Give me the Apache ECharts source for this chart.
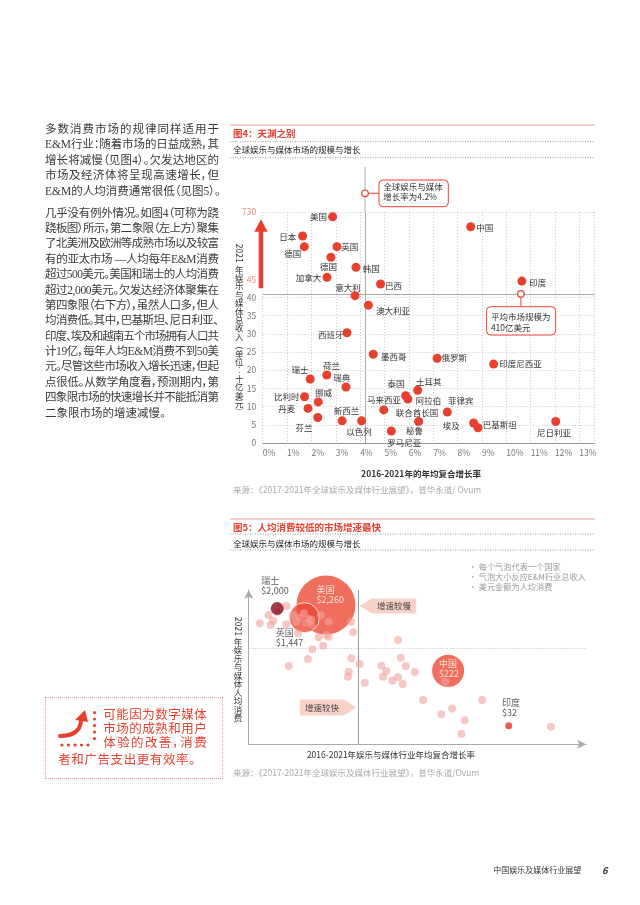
<!DOCTYPE html>
<html>
<head>
<meta charset="utf-8">
<title>天渊之别</title>
<script src="https://cdn.jsdelivr.net/npm/echarts@6/dist/echarts.min.js"></script>
<style>
html,body{margin:0;padding:0;background:#fff;width:640px;height:905px;overflow:hidden;}
#main{position:absolute;left:0;top:0;width:640px;height:905px;}
.ln{position:absolute;white-space:nowrap;font-family:"Liberation Serif","DejaVu Serif","Noto Sans CJK SC",serif;font-feature-settings:"palt";}
#box{position:absolute;left:45px;top:697px;width:178px;height:82px;border:1px dotted #e79a95;box-sizing:border-box;}
#icon{position:absolute;left:0;top:0;pointer-events:none;}
</style>
</head>
<body>
<div id="main"></div>
<div id="box"></div>
<svg id="icon" width="640" height="905">
  <path d="M60,736 C72,736 80,732 81,721" fill="none" stroke="#e8402f" stroke-width="4" stroke-linecap="round"/>
  <polygon points="85,710 75,720 88,722" fill="#e8402f"/>
  <line x1="94.5" y1="712.5" x2="94.5" y2="745" stroke="#e8402f" stroke-width="3.2" stroke-linecap="round" stroke-dasharray="0 6.5"/>
  <line x1="62" y1="745" x2="94.5" y2="745" stroke="#e8402f" stroke-width="3.2" stroke-linecap="round" stroke-dasharray="0 6.5"/>
</svg>
<script>
// ================= DATA =================
// Figure 4: market size (2021, US$ bn) vs 2016-2021 CAGR (%)
const labels4 = ['美国','中国','日本','德国','英国','德国','韩国','加拿大','巴西','印度','意大利',
  '澳大利亚','西班牙','墨西哥','俄罗斯','印度尼西亚','瑞士','荷兰','瑞典','比利时','挪威','丹麦','芬兰',
  '新西兰','以色列','泰国','土耳其','马来西亚','阿拉伯联合酋长国','菲律宾','秘鲁','罗马尼亚','埃及','巴基斯坦','尼日利亚'];
const cagr4 = [2.87,8.54,1.64,1.71,3.05,2.80,3.83,2.64,4.84,10.64,3.79,
  4.34,3.46,4.54,7.16,9.48,1.95,2.63,3.42,1.72,2.28,1.86,2.26,
  3.26,4.06,5.87,6.36,4.97,5.96,7.58,6.40,5.28,8.66,8.84,12.03];
const revenue4 = [682,580,486,377,377,269,167,65,43.7,44.5,40.5,
  37.9,30.3,24.4,23.3,21.7,17.6,18.7,15.4,12.7,11.3,9.5,7.0,
  6.1,6.1,13.0,14.5,9.1,12.1,8.5,5.9,3.3,5.5,4.2,5.9];
const globalCagr = 4.2;      // 全球增长率 4.2%
const avgMarket = 41;        // 平均市场规模 410亿美元
const breakLow = 45, breakHigh = 730;

// Figure 5: per-capita spend (US$) vs CAGR (%)
const cagr5 = [0.00,0.38,0.57,0.47,0.75,1.14,1.14,1.42,1.56,1.64,1.89,2.21,2.21,2.61,2.95,3.91,3.99,2.85,2.95,2.52,
  2.71,2.25,2.06,1.24,3.91,4.27,3.80,3.77,4.49,5.91,6.03,5.20,6.24,5.41,5.27,6.62,5.91,5.67,6.11,7.93,
  6.98,9.50,8.22,7.76,8.76,8.62,12.44,1.72,2.08,1.98];
const spend5 = [1186,1588,1300,1117,1783,2183,1143,1588,1253,834,1687,1330,1117,1588,1253,1253,863,785,739,723,
  538,474,337,263,345,282,215,180,146,658,352,266,263,220,180,213,177,157,139,151,
  79,79,59,48,39,24,31,1429,1393,1197];
const hiLabels5 = ['美国\n$2,260','英国\n$1,447','中国\n$222','瑞士\n$2,000','印度\n$32'];
const hiCagr5 = [2.83,1.91,8.05,0.75,10.64];
const hiSpend5 = [2260,1447,222,2000,32];
const spendThreshold = 500;

// ================= STYLE (not data) =================
const FF = '"Noto Sans CJK SC","Noto Sans",sans-serif';
const RED = '#e8402f';
const labelOff4 = [[-14.2,0],[14,0.7],[-15,0.7],[-11.7,7.3],[12.8,0],[-2.5,9.3],[15.3,1.7],[-18.5,0.3],[12.8,1.3],[16,1.7],[-7,-8],
  [24.7,5.7],[-16.2,2.3],[20.5,2.3],[17.2,0],[26.8,0],[-10.2,-9],[4.7,-9],[-4.2,-9],[-17.8,0],[5.3,-9.3],[-21.3,0],[-13.8,10],
  [4.3,-10.3],[-2.5,11],[-9.7,-12.3],[11.2,-8.7],[0.3,-9.7],[9.2,7.8],[13.5,-11],[-4,9],[13,11.7],[-22.3,3],[21.7,-2.7],[-1.8,11]];
const hiStyle5 = [
  {size:59, color:'#ec4a36', text:'#fff', off:[-9.4,-10]},
  {size:30, color:'#ec4a36', text:'#333', off:[-28.7,20.2], border:'#fff'},
  {size:32, color:'#ec4a36', text:'#fff', off:[-9.1,-2.1]},
  {size:13, color:'#8b0b1c', text:'#333', off:[-16,-22.5]},
  {size:7,  color:'#e63322', text:'#333', off:[-6.7,-17.7]}
];

function hiData(idx){
  return idx.map(i => ({
    name: hiLabels5[i], value:[hiCagr5[i], hiSpend5[i]], symbolSize: hiStyle5[i].size,
    itemStyle:{color:hiStyle5[i].color, borderColor:hiStyle5[i].border||null, borderWidth:hiStyle5[i].border?1:0},
    label:{show:true, position:'inside', align:'left', offset:hiStyle5[i].off, color:hiStyle5[i].text,
      fontSize:9, lineHeight:10, fontFamily:FF, formatter:p=>p.name}
  }));
}

const data4 = labels4.map((n,i) => {
  const d = {name:n, value:[cagr4[i], revenue4[i]], label:{offset:labelOff4[i]}};
  if (n === '阿拉伯联合酋长国') {
    d.label.formatter = '{a|阿拉伯}\n{b|联合酋长国}';
    d.label.rich = {a:{fontSize:8.5,color:'#333',fontFamily:FF,padding:[0,0,0,23],lineHeight:11.7},
                    b:{fontSize:8.5,color:'#333',fontFamily:FF,lineHeight:11.7}};
  }
  return d;
});

const chart = echarts.init(document.getElementById('main'), null, {renderer:'canvas', width:640, height:905});
const option = {
  animation:false,
  backgroundColor:'#fff',
  textStyle:{fontFamily:FF},
  grid:[
    {left:262.7, top:212, width:332, height:231},
    {left:248.7, top:590, width:337.3, height:154.3}
  ],
  xAxis:[
    {gridIndex:0, type:'value', min:0, max:13.63, interval:1,
      axisLine:{show:true, lineStyle:{color:'#999'}}, axisTick:{show:false},
      axisLabel:{formatter:'{value}%', align:'left', fontSize:8.5, color:'#777', margin:6, showMaxLabel:false, fontFamily:FF},
      splitLine:{show:true, lineStyle:{color:'#c8c8c8', type:[1,2]}}},
    {gridIndex:1, type:'value', min:-0.47, max:13.94,
      axisLine:{show:true, onZero:false, symbol:['none','arrow'], symbolSize:[7,9], lineStyle:{color:'#aaa'}},
      axisTick:{show:false}, axisLabel:{show:false}, splitLine:{show:false}}
  ],
  yAxis:[
    {gridIndex:0, type:'value', min:0, max:breakHigh, interval:5,
      breaks:[{start:breakLow, end:breakHigh, gap:18.5}],
      breakArea:{show:false, itemStyle:{opacity:0}},
      axisLine:{show:false}, axisTick:{show:false},
      axisLabel:{fontSize:8.5, margin:6.5, padding:[4,0,0,0], fontFamily:FF,
        color:(v)=> (Number(v)===breakLow||Number(v)===breakHigh) ? '#f08c84' : '#777'},
      splitLine:{show:true, lineStyle:{color:'#c8c8c8', type:[1,2]}}},
    {gridIndex:1, type:'log', logBase:10, min:16.63, max:3837,
      axisLine:{show:true, onZero:false, symbol:['none','arrow'], symbolSize:[7,9], lineStyle:{color:'#aaa'}},
      axisTick:{show:false}, axisLabel:{show:false}, splitLine:{show:false}}
  ],
  series:[
    {type:'scatter', xAxisIndex:0, yAxisIndex:0, symbolSize:9, z:5,
      itemStyle:{color:RED, opacity:1},
      label:{show:true, position:'inside', formatter:p=>p.name, fontSize:8.5, color:'#333', fontFamily:FF},
      data:data4,
      markLine:{silent:true, symbol:'none', label:{show:false}, z:2,
        lineStyle:{color:'#aaa', type:'solid', width:1},
        data:[{xAxis:globalCagr},{yAxis:avgMarket}]}},
    {type:'scatter', xAxisIndex:1, yAxisIndex:1, z:3, data:hiData([0,1,2])},
    {type:'scatter', xAxisIndex:1, yAxisIndex:1, z:4, symbolSize:8,
      itemStyle:{color:'rgba(241,162,156,0.75)'},
      data:cagr5.map((x,i)=>[x, spend5[i]]),
      markLine:{silent:true, symbol:'none', label:{show:false}, z:1,
        data:[{xAxis:globalCagr, lineStyle:{color:'#999', type:'solid', width:1}},
              {yAxis:spendThreshold, lineStyle:{color:'#bbb', type:[1,2], width:1}}]}},
    {type:'scatter', xAxisIndex:1, yAxisIndex:1, z:6, data:hiData([3,4])}
  ]
};
chart.setOption(option);

// ================= ANNOTATIONS =================
const G = [];
function L(x1,y1,x2,y2,stroke,dash,w){ G.push({type:'line', silent:true, z:50, shape:{x1,y1,x2,y2}, style:{stroke, lineWidth:w||1, lineDash:dash||null}}); }
function T(x,y,t,o){ G.push({type:'text', silent:true, z:60, x, y, style:Object.assign({text:t, fontFamily:FF, fontSize:8.5, fill:'#333', align:'left', verticalAlign:'middle'}, o||{})}); }
function vText(x, yDigits, digits, chars, fs, lh, yFirst){
  G.push({type:'text', silent:true, z:60, x, y:yDigits, rotation:-Math.PI/2,
    style:{text:digits, fontFamily:FF, fontSize:fs, fill:'#333', align:'center', verticalAlign:'middle'}});
  G.push({type:'text', silent:true, z:60, x, y:yFirst - lh/2,
    style:{text:chars.join('\n'), fontFamily:FF, fontSize:fs, lineHeight:lh, fill:'#333', align:'center', verticalAlign:'top'}});
}

// headers
const DOT = [1,1.5];
L(230,125,595,125,'#ec9c95'); T(233,133.3,'图4：天渊之别',{fontSize:9.5,fontWeight:'bold',fill:RED});
L(230,141.7,595,141.7,'#999',DOT); T(233,149.3,'全球娱乐与媒体市场的规模与增长',{fill:'#222'}); L(230,157.7,595,157.7,'#999',DOT);
L(230,519,595,519,'#ec9c95'); T(233,527.3,'图5：人均消费较低的市场增速最快',{fontSize:9.5,fontWeight:'bold',fill:RED});
L(230,534,595,534,'#999',DOT); T(233,543.3,'全球娱乐与媒体市场的规模与增长',{fill:'#222'}); L(230,550,595,550,'#999',DOT);

// axis names
T(421,473.3,'2016-2021年的年均复合增长率',{align:'center',fontWeight:'bold'});
T(391,754.3,'2016-2021年娱乐与媒体行业年均复合增长率',{align:'center'});
vText(239.3,253.3,'2021',['年','娱','乐','与','媒','体','总','收','入','︵','单','位','︰','十','亿','美','元','︶'],8.5,8.4,269.3);
vText(238,626.5,'2021',['年','娱','乐','与','媒','体','人','均','消','费'],8.5,8.5,641.7);

// sources
T(233,489.3,'来源：《2017-2021年全球娱乐及媒体行业展望》，普华永道/ Ovum',{fill:'#aaa'});
T(233,773,'来源：《2017-2021年全球娱乐及媒体行业展望》，普华永道/Ovum',{fill:'#aaa'});

// red arrow (fig 4)
G.push({type:'polygon', silent:true, z:40, shape:{points:[[258.7,288.3],[258.7,231.7],[254.3,231.7],[261,219.3],[267.7,231.7],[263.3,231.7],[263.3,288.3]]}, style:{fill:RED}});

// callouts (fig 4)
const A = chart.convertToPixel({gridIndex:0}, [globalCagr, breakHigh]);
L(A[0],167,A[0],A[1],'#aaa');
L(A[0]+3.3,193.3,A[0]+14,193.3,RED);
G.push({type:'rect', silent:true, z:55, shape:{x:A[0]+14, y:180, width:69.3, height:26.7, r:4}, style:{fill:'#fff', stroke:RED, lineWidth:1}});
T(A[0]+18.3,186.7,'全球娱乐与媒体'); T(A[0]+18.3,197,'增长率为4.2%');
G.push({type:'circle', silent:true, z:56, shape:{cx:A[0], cy:193.3, r:3.3}, style:{fill:'#fff', stroke:RED, lineWidth:1.2}});

const B = chart.convertToPixel({gridIndex:0}, [10.6, avgMarket]);
L(B[0],B[1]+3.3,B[0],306.7,RED);
G.push({type:'rect', silent:true, z:55, shape:{x:B[0]-34.3, y:306.7, width:69, height:28.3, r:4}, style:{fill:'#fff', stroke:RED, lineWidth:1}});
T(B[0]-30,316.7,'平均市场规模为'); T(B[0]-30,327.3,'410亿美元');
G.push({type:'circle', silent:true, z:56, shape:{cx:B[0], cy:B[1], r:3.3}, style:{fill:'#fff', stroke:RED, lineWidth:1.2}});

// fig 5 legend notes
T(468.7,567.3,'· 每个气泡代表一个国家',{fill:'#999',fontSize:8.2});
T(468.7,576.7,'· 气泡大小反应E&M行业总收入',{fill:'#999',fontSize:8.2});
T(468.7,586.7,'· 美元金额为人均消费',{fill:'#999',fontSize:8.2});

// fig 5 speed arrows
G.push({type:'polygon', silent:true, z:30, shape:{points:[[359.7,606],[372,598.5],[416.3,598.5],[416.3,613.5],[372,613.5]]}, style:{fill:'#f9d2c7'}});
T(394,606,'增速较慢',{align:'center',fill:'#444',fontSize:8.5});
G.push({type:'polygon', silent:true, z:30, shape:{points:[[299.7,699.5],[344,699.5],[356.3,707.5],[344,715.5],[299.7,715.5]]}, style:{fill:'#f9d2c7'}});
T(322,707.5,'增速较快',{align:'center',fill:'#444',fontSize:8.5});

// footer
T(493.3,870,'中国娱乐及媒体行业展望',{fontSize:8,fill:'#333'});
T(602,870,'6',{fontSize:9.5,fontWeight:'bold',fontStyle:'italic',fill:'#333'});

chart.setOption({graphic:{elements:G}});

// ================= LEFT COLUMN TEXT (HTML) =================
function addLines(lines, x, yc0, lh, width, fs, color, justifyLast){
  lines.forEach((t,i)=>{
    const d = document.createElement('div');
    d.className = 'ln';
    d.textContent = t;
    d.style.left = x + 'px';
    d.style.top = (yc0 + i*lh - lh/2) + 'px';
    d.style.fontSize = fs + 'px';
    d.style.lineHeight = lh + 'px';
    d.style.color = color;
    document.body.appendChild(d);
    const last = i === lines.length - 1;
    if (!last || justifyLast) {
      const w = d.getBoundingClientRect().width;
      const n = Array.from(t).length;
      if (n > 1) d.style.letterSpacing = ((width - w)/(n - 1)) + 'px';
    }
  });
}
const para1 = ['多数消费市场的规律同样适用于','E&M行业：随着市场的日益成熟，其','增长将减慢（见图4）。欠发达地区的',
  '市场及经济体将呈现高速增长，但','E&M的人均消费通常很低（见图5）。'];
const para2 = ['几乎没有例外情况。如图4（可称为跷','跷板图）所示，第二象限（左上方）聚集','了北美洲及欧洲等成熟市场以及较富',
  '有的亚太市场 —人均每年E&M消费','超过500美元。美国和瑞士的人均消费','超过2,000美元。欠发达经济体聚集在',
  '第四象限（右下方），虽然人口多，但人','均消费低。其中，巴基斯坦、尼日利亚、','印度、埃及和越南五个市场拥有人口共',
  '计19亿，每年人均E&M消费不到50美','元。尽管这些市场收入增长迅速，但起','点很低。从数学角度看，预测期内，第',
  '四象限市场的快速增长并不能抵消第','二象限市场的增速减慢。'];
addLines(para1, 45, 129.7, 15.4, 174, 11.5, '#3a3a3a', false);
addLines(para2, 45, 213.3, 15.38, 174, 11.5, '#3a3a3a', false);
addLines(['可能因为数字媒体','市场的成熟和用户','体验的改善，消费'], 103.3, 715, 14.2, 103.4, 12.5, RED, true);
addLines(['者和广告支出更有效率。'], 58.3, 760, 14.2, 137, 12.5, RED, true);
</script>
</body>
</html>
